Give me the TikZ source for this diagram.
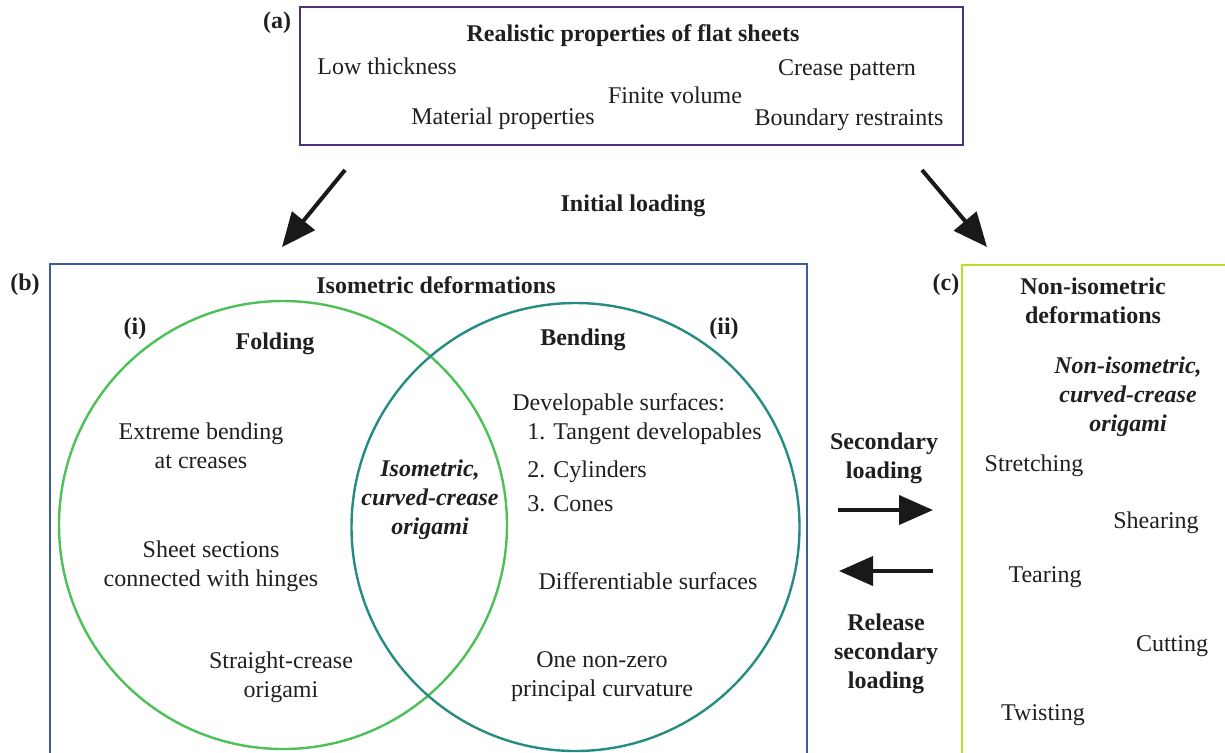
\documentclass[tikz,border=0pt]{standalone}
\usepackage{fontspec}
\setmainfont{Liberation Serif}
\usetikzlibrary{positioning,arrows.meta}

\definecolor{sheetpurple}{RGB}{78,48,125}
\definecolor{isoblue}{RGB}{58,92,158}
\definecolor{noniso}{RGB}{192,220,40}
\definecolor{foldgreen}{RGB}{78,192,88}
\definecolor{bendteal}{RGB}{38,140,130}

\begin{document}
\begin{tikzpicture}[x=0.5pt, y=-0.5pt,
    every node/.style={font=\fontsize{12}{14.5}\selectfont, inner sep=0pt, text=black!88},
    panel/.style={draw, line width=1.2pt, minimum width=#1},
    ring/.style={circle, draw, line width=1.2pt, minimum size=224pt, inner sep=0pt},
    item/.style={align=center},
    head/.style={font=\fontsize{12}{14.5}\selectfont\bfseries, align=center},
    key/.style={font=\fontsize{12}{14.5}\selectfont\bfseries\itshape, align=center},
    load/.style={line width=2pt, draw=black!90, -{Triangle[length=17pt,width=14.5pt]}}
]
\useasboundingbox (0,0) rectangle (1225,752);
\clip (0,0) rectangle (1225,752);

\node [panel=331.5pt, draw=sheetpurple, minimum height=69pt] (boxa) at (631.5,76) {};
\node [panel=378.5pt, draw=isoblue, minimum height=268pt] (boxb) at (428.5,532) {};
\node [panel=139pt, draw=noniso, minimum height=267.5pt] (boxc) at (1101,532.5) {};

\node [ring, draw=foldgreen] (fold) at (283,525) {};
\node [ring, draw=bendteal] (bend) at (575.5,527) {};

\node [head] (la) at (277,23) {(a)};
\node [head] (titlea) at (633,36) {Realistic properties of flat sheets};
\node [item] (thick) at (387,66) {Low thickness};
\node [item] (crease) at (847,70) {Crease pattern};
\node [item] (volume) at (675,95) {Finite volume};
\node [item] (material) at (503,119) {Material properties};
\node [item] (boundary) at (849,120) {Boundary restraints};

\node [head] (initial) at (633,206) {Initial loading};
\coordinate (s1) at (345,170);
\coordinate (t1) at (282,247);
\coordinate (s2) at (922,170);
\coordinate (t2) at (987,247);
\draw [load] (s1) -- (t1);
\draw [load] (s2) -- (t2);

\node [head] (lb) at (25,285) {(b)};
\node [head] (titleb) at (436,285) {Isometric deformations};
\node [head] (li) at (135,329) {(i)};
\node [head] (folding) at (275,344) {Folding};
\node [head] (bending) at (583,340) {Bending};
\node [head] (lii) at (724,329) {(ii)};

\node [item] (extreme) at (201,446) {Extreme bending\\at creases};
\node [item] (hinges) at (211,566) {Sheet sections\\connected with hinges};
\node [item] (straight) at (281,677) {Straight-crease\\origami};
\node [key] (isocc) at (430,500) {Isometric,\\curved-crease\\origami};

\node [anchor=west] (develop) at (512,405) {Developable surfaces:};
\node [anchor=west] (tangent) at (527,434) {1. Tangent developables};
\node [anchor=west] (cylinder) at (527,472) {2. Cylinders};
\node [anchor=west] (cone) at (527,504) {3. Cones};
\node [item] (differ) at (648,581) {Differentiable surfaces};
\node [item] (principal) at (602,677) {One non-zero\\principal curvature};

\node [head] (second) at (884,458) {Secondary\\loading};
\node [head] (release) at (886,654) {Release\\secondary\\loading};
\coordinate (s3) at (838,510);
\coordinate (t3) at (933,510);
\coordinate (s4) at (933,571);
\coordinate (t4) at (839,571);
\draw [load] (s3) -- (t3);
\draw [load] (s4) -- (t4);

\node [head] (lc) at (946,285) {(c)};
\node [head] (titlec) at (1093,301) {Non-isometric\\deformations};
\node [key] (nonisocc) at (1128,397) {Non-isometric,\\curved-crease\\origami};
\node [item] (stretch) at (1034,466) {Stretching};
\node [item] (shear) at (1156,523) {Shearing};
\node [item] (tear) at (1045,577) {Tearing};
\node [item] (cut) at (1172,646) {Cutting};
\node [item] (twist) at (1043,715) {Twisting};

\end{tikzpicture}
\end{document}
